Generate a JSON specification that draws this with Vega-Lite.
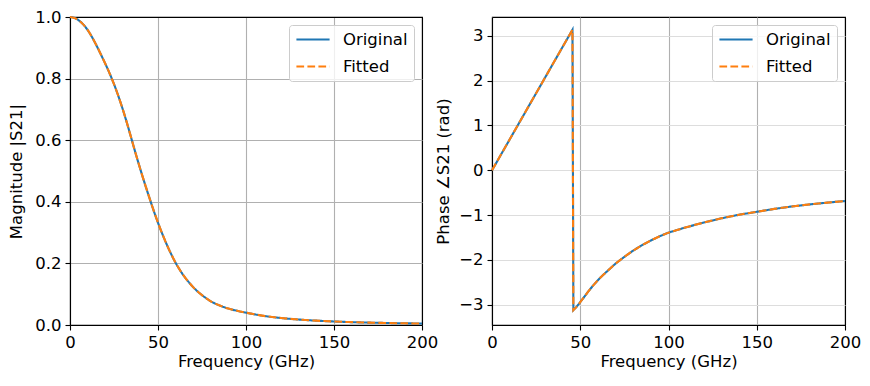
{
  "$schema": "https://vega.github.io/schema/vega-lite/v6.json",
  "padding": {"left": 7, "top": 8, "right": 5, "bottom": 8},
  "background": "white",
  "datasets": {
    "mag": [
      {"f": 0, "Original": 1.0, "Fitted": 1.0},
      {"f": 2.5, "Original": 0.997, "Fitted": 0.997},
      {"f": 5, "Original": 0.989, "Fitted": 0.989},
      {"f": 7.5, "Original": 0.976, "Fitted": 0.976},
      {"f": 10, "Original": 0.958, "Fitted": 0.958},
      {"f": 12.5, "Original": 0.935, "Fitted": 0.935},
      {"f": 15, "Original": 0.908, "Fitted": 0.908},
      {"f": 17.5, "Original": 0.879, "Fitted": 0.879},
      {"f": 20, "Original": 0.849, "Fitted": 0.849},
      {"f": 22.5, "Original": 0.817, "Fitted": 0.817},
      {"f": 25, "Original": 0.782, "Fitted": 0.782},
      {"f": 27.5, "Original": 0.743, "Fitted": 0.743},
      {"f": 30, "Original": 0.7, "Fitted": 0.7},
      {"f": 32.5, "Original": 0.653, "Fitted": 0.653},
      {"f": 35, "Original": 0.603, "Fitted": 0.603},
      {"f": 37.5, "Original": 0.553, "Fitted": 0.553},
      {"f": 40, "Original": 0.505, "Fitted": 0.505},
      {"f": 42.5, "Original": 0.459, "Fitted": 0.459},
      {"f": 45, "Original": 0.415, "Fitted": 0.415},
      {"f": 47.5, "Original": 0.372, "Fitted": 0.372},
      {"f": 50, "Original": 0.332, "Fitted": 0.332},
      {"f": 52.5, "Original": 0.295, "Fitted": 0.295},
      {"f": 55, "Original": 0.261, "Fitted": 0.261},
      {"f": 57.5, "Original": 0.23, "Fitted": 0.23},
      {"f": 60, "Original": 0.202, "Fitted": 0.202},
      {"f": 62.5, "Original": 0.178, "Fitted": 0.178},
      {"f": 65, "Original": 0.157, "Fitted": 0.157},
      {"f": 67.5, "Original": 0.139, "Fitted": 0.139},
      {"f": 70, "Original": 0.123, "Fitted": 0.123},
      {"f": 72.5, "Original": 0.109, "Fitted": 0.109},
      {"f": 75, "Original": 0.097, "Fitted": 0.097},
      {"f": 77.5, "Original": 0.0865, "Fitted": 0.0865},
      {"f": 80, "Original": 0.077, "Fitted": 0.077},
      {"f": 85, "Original": 0.0635, "Fitted": 0.0635},
      {"f": 90, "Original": 0.0535, "Fitted": 0.0535},
      {"f": 95, "Original": 0.046, "Fitted": 0.046},
      {"f": 100, "Original": 0.04, "Fitted": 0.04},
      {"f": 110, "Original": 0.0297, "Fitted": 0.0297},
      {"f": 120, "Original": 0.0226, "Fitted": 0.0226},
      {"f": 130, "Original": 0.0177, "Fitted": 0.0177},
      {"f": 140, "Original": 0.0141, "Fitted": 0.0141},
      {"f": 150, "Original": 0.0114, "Fitted": 0.0114},
      {"f": 160, "Original": 0.0093, "Fitted": 0.0093},
      {"f": 170, "Original": 0.0077, "Fitted": 0.0077},
      {"f": 180, "Original": 0.0065, "Fitted": 0.0065},
      {"f": 190, "Original": 0.0055, "Fitted": 0.0055},
      {"f": 200, "Original": 0.0047, "Fitted": 0.0047}
    ],
    "phase": [
      {"f": 0, "Original": 0.0, "Fitted": 0.0},
      {"f": 10, "Original": 0.688, "Fitted": 0.688},
      {"f": 20, "Original": 1.376, "Fitted": 1.376},
      {"f": 30, "Original": 2.064, "Fitted": 2.064},
      {"f": 40, "Original": 2.752, "Fitted": 2.752},
      {"f": 45.6, "Original": 3.137, "Fitted": 3.137},
      {"f": 46.1, "Original": -3.12, "Fitted": -3.12},
      {"f": 48, "Original": -3.04, "Fitted": -3.04},
      {"f": 50, "Original": -2.94, "Fitted": -2.94},
      {"f": 52.5, "Original": -2.81, "Fitted": -2.81},
      {"f": 55, "Original": -2.68, "Fitted": -2.68},
      {"f": 57.5, "Original": -2.56, "Fitted": -2.56},
      {"f": 60, "Original": -2.45, "Fitted": -2.45},
      {"f": 62.5, "Original": -2.35, "Fitted": -2.35},
      {"f": 65, "Original": -2.26, "Fitted": -2.26},
      {"f": 70, "Original": -2.08, "Fitted": -2.08},
      {"f": 75, "Original": -1.93, "Fitted": -1.93},
      {"f": 80, "Original": -1.79, "Fitted": -1.79},
      {"f": 85, "Original": -1.67, "Fitted": -1.67},
      {"f": 90, "Original": -1.565, "Fitted": -1.565},
      {"f": 95, "Original": -1.47, "Fitted": -1.47},
      {"f": 100, "Original": -1.39, "Fitted": -1.39},
      {"f": 110, "Original": -1.27, "Fitted": -1.27},
      {"f": 120, "Original": -1.165, "Fitted": -1.165},
      {"f": 130, "Original": -1.07, "Fitted": -1.07},
      {"f": 140, "Original": -0.99, "Fitted": -0.99},
      {"f": 150, "Original": -0.925, "Fitted": -0.925},
      {"f": 160, "Original": -0.86, "Fitted": -0.86},
      {"f": 170, "Original": -0.805, "Fitted": -0.805},
      {"f": 180, "Original": -0.76, "Fitted": -0.76},
      {"f": 190, "Original": -0.72, "Fitted": -0.72},
      {"f": 200, "Original": -0.685, "Fitted": -0.685}
    ]
  },
  "hconcat": [
    {
      "width": 352,
      "height": 308,
      "data": {"name": "mag"},
      "transform": [{"fold": ["Original", "Fitted"], "as": ["series", "v"]}],
      "encoding": {
        "x": {
          "field": "f", "type": "quantitative",
          "scale": {"domain": [0, 200], "nice": false, "zero": false},
          "axis": {"title": "Frequency (GHz)", "values": [0, 50, 100, 150, 200], "format": "d",
                   "gridColor": {"condition": {"test": "datum.value === 200", "value": "black"}, "value": "#b0b0b0"}}
        },
        "y": {
          "field": "v", "type": "quantitative",
          "scale": {"domain": [0, 1], "nice": false},
          "axis": {"title": "Magnitude |S21|", "values": [0, 0.2, 0.4, 0.6, 0.8, 1.0], "format": ".1f", "titlePadding": 10.5,
                   "gridColor": {"condition": {"test": "datum.value === 1", "value": "black"}, "value": "#b0b0b0"}}
        },
        "color": {"field": "series", "type": "nominal", "scale": {"domain": ["Original", "Fitted"], "range": ["#1f77b4", "#ff7f0e"]}, "legend": {"title": null}},
        "strokeDash": {"field": "series", "type": "nominal", "scale": {"domain": ["Original", "Fitted"], "range": [[1, 0], [7.7, 3.3]]}, "legend": {"title": null}}
      },
      "layer": [
        {"transform": [{"filter": "datum.series === 'Original'"}], "mark": {"type": "line", "strokeWidth": 2.1, "interpolate": "monotone"}},
        {"transform": [{"filter": "datum.series === 'Fitted'"}], "mark": {"type": "line", "strokeWidth": 2.1, "interpolate": "monotone"}}
      ]
    },
    {
      "width": 353,
      "height": 308,
      "data": {"name": "phase"},
      "transform": [{"fold": ["Original", "Fitted"], "as": ["series", "v"]}],
      "encoding": {
        "x": {
          "field": "f", "type": "quantitative",
          "scale": {"domain": [0, 200], "nice": false, "zero": false},
          "axis": {"title": "Frequency (GHz)", "values": [0, 50, 100, 150, 200], "format": "d",
                   "gridColor": {"condition": {"test": "datum.value === 200", "value": "black"}, "value": "#b0b0b0"}}
        },
        "y": {
          "field": "v", "type": "quantitative",
          "scale": {"domain": [-3.45, 3.42], "nice": false, "zero": false},
          "axis": {"title": "Phase ∠S21 (rad)", "values": [-3, -2, -1, 0, 1, 2, 3], "format": "d", "titlePadding": 7.3}
        },
        "color": {"field": "series", "type": "nominal", "scale": {"domain": ["Original", "Fitted"], "range": ["#1f77b4", "#ff7f0e"]}, "legend": {"title": null}},
        "strokeDash": {"field": "series", "type": "nominal", "scale": {"domain": ["Original", "Fitted"], "range": [[1, 0], [7.7, 3.3]]}, "legend": {"title": null}}
      },
      "layer": [
        {"transform": [{"filter": "datum.series === 'Original'"}], "mark": {"type": "line", "strokeWidth": 2.1}},
        {"transform": [{"filter": "datum.series === 'Fitted'"}], "mark": {"type": "line", "strokeWidth": 2.1}}
      ]
    }
  ],
  "spacing": 70,
  "bounds": "flush",
  "resolve": {"scale": {"color": "independent", "strokeDash": "independent"}, "legend": {"color": "independent", "strokeDash": "independent"}},
  "config": {
    "font": "DejaVu Sans",
    "view": {"stroke": "black", "strokeWidth": 1.1},
    "axis": {
      "labelFont": "DejaVu Sans", "labelFontSize": 16.5, "labelColor": "black", "labelFlush": false, "labelPadding": 4,
      "titleFont": "DejaVu Sans", "titleFontSize": 16.5, "titleFontWeight": "normal", "titleColor": "black", "titlePadding": 3,
      "tickColor": "black", "tickWidth": 1.1, "tickSize": 5,
      "domainColor": "black", "domainWidth": 1.1,
      "grid": true, "gridWidth": 1.1
    },
    "legend": {
      "orient": "top-right", "offset": 8, "padding": 6,
      "fillColor": "rgba(255,255,255,0.8)", "strokeColor": "#cccccc", "cornerRadius": 3,
      "labelFont": "DejaVu Sans", "labelFontSize": 16.5, "labelColor": "black",
      "symbolType": "stroke", "symbolSize": 1100, "symbolStrokeWidth": 2.1, "labelOffset": 12,
      "clipHeight": 17, "rowPadding": 10
    }
  }
}
